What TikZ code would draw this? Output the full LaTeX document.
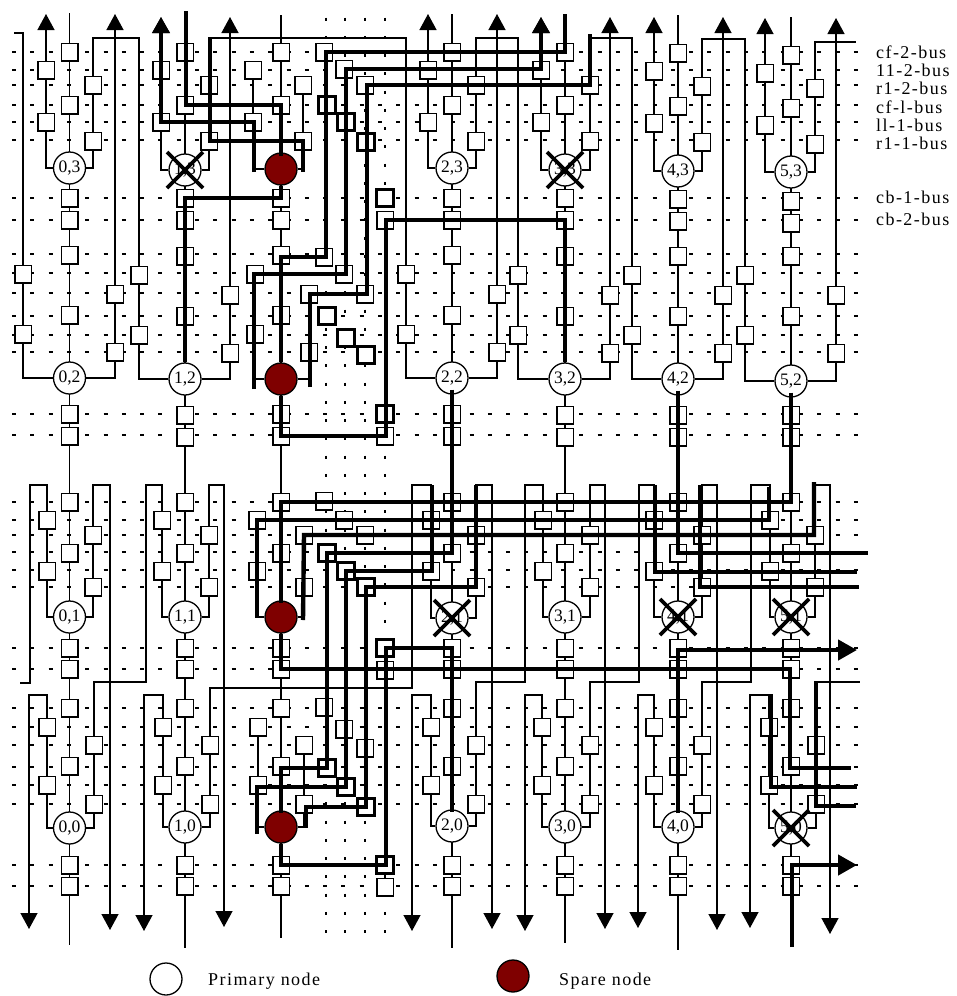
\documentclass[tikz,border=0pt]{standalone}
\usepackage{fontspec}
\setmainfont{Liberation Serif}
\newfontfamily\lblfont[LetterSpace=8]{Liberation Serif}
\usetikzlibrary{arrows.meta,backgrounds}
\definecolor{sparered}{HTML}{7F0000}
\tikzset{
  sw/.style={draw,fill=white,rectangle,minimum width=16.5pt,minimum height=17.5pt,inner sep=0pt,line width=1.5pt},
  swthick/.style={sw,line width=2.8pt},
  pe/.style={draw,fill=white,circle,minimum size=32pt,inner sep=0pt,line width=1.3pt,font=\fontsize{17.5}{18}\selectfont},
  sparepe/.style={pe,fill=sparered},
  wire/.style={line width=1.3pt},
  wirearrow/.style={wire,-{Triangle[width=17pt,length=16pt]}},
  bus/.style={line width=4.4pt,line join=miter},
  busup/.style={bus,-{Triangle[width=17pt,length=16pt]}},
  busarrow/.style={bus,-{Triangle[width=20pt,length=19pt]}},
  busdash/.style={line width=1.1pt,dash pattern=on 4pt off 14.3pt},
  busdots/.style={line width=1.5pt,dash pattern=on 3pt off 15.25pt},
  xm/.style={line width=3.8pt},
  lbl/.style={anchor=west,inner sep=0pt,font=\lblfont\fontsize{18}{18}\selectfont},
}
\newcommand{\setrow}[9]{\def\ya{#1}\def\yb{#2}\def\yc{#3}\def\yd{#4}\def\ye{#5}\def\yf{#6}\def\yg{#7}\def\yh{#8}\def\yi{#9}}
% name, label, cx, xL, xR, box dy, circle dy, style
\newcommand{\pecell}[8]{%
  \node[sw] (#1-cf2) at (#3,{\ya+#6}) {};
  \node[sw] (#1-ll2) at (#4,{\yb+#6}) {};
  \node[sw] (#1-rl2) at (#5,{\yc+#6}) {};
  \node[sw] (#1-cf1) at (#3,{\yd+#6}) {};
  \node[sw] (#1-ll1) at (#4,{\ye+#6}) {};
  \node[sw] (#1-rl1) at (#5,{\yf+#6}) {};
  \node[sw] (#1-cb1) at (#3,{\yh+#6}) {};
  \node[sw] (#1-cb2) at (#3,{\yi+#6}) {};
  \node[#8] (#1) at (#3,{\yg+#7}) {#2};
}
\newcommand{\extras}[9]{% row prefix, then the eight y positions of the bus-crossing switches
  \node[sw] (#1-cf2) at (324,#2) {};
  \node[sw] (#1-ll2) at (344,#3) {};
  \node[sw] (#1-rl2) at (365,#4) {};
  \node[swthick] (#1-cf1) at (327,#5) {};
  \node[swthick] (#1-ll1) at (346,#6) {};
  \node[swthick] (#1-rl1) at (366,#7) {};
  \node[swthick] (#1-cb1) at (385,#8) {};
  \node[sw] (#1-cb2) at (385,#9) {};
}
\newcommand{\outwire}[4]{\coordinate (tip#1) at (#3,#4); \draw[wirearrow] (#1.#2) -| (tip#1);}
\newcommand{\topwrap}[5]{\coordinate (wa) at (#3,#4); \coordinate (wb) at (#5,#4); \draw[wire] (#1.east) -| (wa) -- (wb) |- (#2.west);}
\newcommand{\upover}[6]{\coordinate (wa) at (#3,#4); \coordinate (wb) at (#5,#6); \draw[wirearrow] (#1.#2) -| (wa) -| (wb);}
\newcommand{\sidewrap}[7]{\coordinate (wa) at (#2,#3); \coordinate (wb) at (#4,#5); \coordinate (wc) at (#6,#5); \draw[wire] (#1.west) -| (wa) -| (wb) -- (wc) |- (#7.east);}
\newcommand{\failed}[1]{%
  \draw[xm] ([shift={(-18,-18)}]#1.center) -- ([shift={(18,18)}]#1.center);
  \draw[xm] ([shift={(18,-18)}]#1.center) -- ([shift={(-18,18)}]#1.center);
}
\newcommand{\freept}[3]{\coordinate (#1) at (#2,#3);}
\begin{document}
\begin{tikzpicture}[x=1pt,y=-1pt]
\useasboundingbox (0,0) rectangle (956,996);
% ---- row 3
\setrow{52}{70}{85}{105}{122}{141}{168}{198}{220}
\pecell{n03}{0,3}{69.5}{46}{93}{0}{0}{pe}
\pecell{n13}{1,3}{185}{161}{209}{0}{2}{pe}
\pecell{ns3}{}{281}{253}{303}{0}{1}{sparepe}
\pecell{n23}{2,3}{452}{428}{476}{0}{0}{pe}
\pecell{n33}{3,3}{565}{541}{590}{0}{2}{pe}
\pecell{n43}{4,3}{678}{654}{702}{1}{3}{pe}
\pecell{n53}{5,3}{791}{765}{815}{3}{4}{pe}
\extras{x3}{52}{69}{85}{105}{122}{142}{198}{220}
% ---- row 2
\setrow{255}{274}{294}{315}{334}{352}{379}{414}{436}
\pecell{n02}{0,2}{69.5}{23}{115}{0}{-1}{pe}
\pecell{n12}{1,2}{185}{139}{230}{1}{0}{pe}
\pecell{ns2}{}{281}{255}{309}{0}{0}{sparepe}
\pecell{n22}{2,2}{452}{406}{497}{0}{-1}{pe}
\pecell{n32}{3,2}{565}{518}{610}{1}{0}{pe}
\pecell{n42}{4,2}{678}{632}{723}{1}{0}{pe}
\pecell{n52}{5,2}{791}{745}{836}{1}{2}{pe}
\extras{x2}{257}{274}{294}{316}{338}{355}{414}{436}
% ---- row 1
\setrow{502}{520}{535}{553}{571}{587}{617}{648}{669}
\pecell{n01}{0,1}{69.5}{47}{93}{0}{0}{pe}
\pecell{n11}{1,1}{185}{162}{209}{0}{0}{pe}
\pecell{ns1}{}{281}{257}{304}{0}{0}{sparepe}
\pecell{n21}{2,1}{452}{431}{476}{0}{1}{pe}
\pecell{n31}{3,1}{565}{543}{590}{0}{0}{pe}
\pecell{n41}{4,1}{678}{654}{702}{0}{0}{pe}
\pecell{n51}{5,1}{791}{770}{815}{0}{0}{pe}
\extras{x1}{501}{520}{535}{553}{571}{587}{648}{670}
% ---- row 0
\setrow{708}{727}{745}{766}{785}{804}{827}{865}{886}
\pecell{n00}{0,0}{69.5}{47}{94}{0}{1}{pe}
\pecell{n10}{1,0}{185}{163}{210}{0}{0}{pe}
\pecell{ns0}{}{281}{258}{304}{0}{0}{sparepe}
\pecell{n20}{2,0}{452}{431}{476}{0}{-1}{pe}
\pecell{n30}{3,0}{565}{542}{590}{0}{0}{pe}
\pecell{n40}{4,0}{678}{654}{702}{0}{0}{pe}
\pecell{n50}{5,0}{791}{769}{816}{0}{1}{pe}
\extras{x0}{707}{729}{748}{768}{787}{807}{865}{887}

\begin{pgfonlayer}{background}
\foreach \yy in {52,70,85,105,122,140,198,220,254,273,293,316,335,352,414,435,502,520,535,552,570,587,648,669,708,727,745,767,785,804,865,886}
  \draw[busdash] (12,\yy) -- (860,\yy);
\foreach \xx in {326,345,365,385}
  \draw[busdots] (\xx,17.5) -- (\xx,933);
% centre columns
\foreach \nm/\xx/\ta/\tb in {c0/69.5/13/945,c1/185/12/948,cs/281/15/938,c2/452/14/948,c3/565/14/943,c4/678/15/950,c5/791/17/945}{
  \coordinate (\nm t) at (\xx,\ta);
  \coordinate (\nm b) at (\xx,\tb);
  \draw[wire] (\nm t) -- (\nm b);
}
% spare-column stubs
\foreach \r in {3,2,1,0}{
  \draw[wire] (ns\r.west) -| (ns\r-ll2.center);
  \draw[wire] (ns\r.east) -| (ns\r-rl2.center);
}
% row 3 lefts and row 2 rights go out through the top
\outwire{n03}{west}{46}{14}
\outwire{n13}{west}{161}{17}
\outwire{n23}{west}{428}{14}
\outwire{n33}{west}{541}{17}
\outwire{n43}{west}{654}{17}
\outwire{n53}{west}{765}{18}
\outwire{n02}{east}{115}{14}
\outwire{n12}{east}{230}{17}
\outwire{n22}{east}{497}{14}
\outwire{n32}{east}{610}{17}
\outwire{n42}{east}{723}{17}
\outwire{n52}{east}{836}{18}
% row 3 rights wrap to row 2 lefts
\topwrap{n03}{n12}{93}{38}{139}
\topwrap{n13}{n22}{209}{38}{406}
\topwrap{n23}{n32}{476}{38}{518}
\topwrap{n33}{n42}{590}{38}{632}
\topwrap{n43}{n52}{702}{39}{745}
\coordinate (e53a) at (815,42); \coordinate (e53b) at (856,42);
\draw[wire] (n53.east) -| (e53a) -- (e53b);
\coordinate (e02a) at (23,33); \coordinate (e02b) at (14,33);
\draw[wire] (n02.west) -| (e02a) -- (e02b);
% row 1 rights and row 0 lefts go out through the bottom
\upover{n01}{east}{93}{485}{110}{930}
\upover{n11}{east}{209}{485}{224}{927}
\upover{n21}{east}{476}{485}{492}{929}
\upover{n31}{east}{590}{485}{605}{929}
\upover{n41}{east}{702}{485}{717}{930}
\upover{n51}{east}{815}{485}{830}{934}
\upover{n00}{west}{47}{695}{29}{929}
\upover{n10}{west}{163}{695}{144}{931}
\upover{n20}{west}{431}{695}{412}{931}
\upover{n30}{west}{542}{695}{525}{931}
\upover{n40}{west}{654}{695}{638}{928}
\upover{n50}{west}{769}{695}{750}{928}
% row 1 lefts wrap from row 0 rights
\sidewrap{n11}{162}{485}{146}{682}{94}{n00}
\sidewrap{n21}{431}{485}{412}{688}{210}{n10}
\sidewrap{n31}{543}{485}{525}{682}{476}{n20}
\sidewrap{n41}{654}{485}{639}{682}{590}{n30}
\sidewrap{n51}{770}{485}{751}{682}{702}{n40}
\coordinate (e01a) at (47,485); \coordinate (e01b) at (30,683); \coordinate (e01c) at (20,683);
\draw[wire] (n01.west) -| (e01a) -| (e01b) -- (e01c);
\coordinate (e50a) at (816,682); \coordinate (e50b) at (860,682);
\draw[wire] (n50.east) -| (e50a) -- (e50b);
\end{pgfonlayer}

% ---- thick reconfigured routes, upper half
\draw[bus] (ns2.north) |- ([xshift=2pt]x2-cf2.center) -- ([xshift=2pt]x3-cf2.center) -| (c3t);
\freept{r2a}{254}{389}
\draw[busup] (r2a) |- ([xshift=2pt]x2-ll2.center) -- ([xshift=2pt]x3-ll2.center) -| (tipn33);
\freept{r3a}{310}{387}\freept{r3b}{590}{34}
\draw[bus] (r3a) |- ([xshift=2pt]x2-rl2.center) -- ([xshift=2pt]x3-rl2.center) -| (r3b);
\freept{r4a}{186}{11}\freept{r4b}{254}{172}\freept{r4c}{303}{172}\freept{r4d}{210}{38}
\draw[bus] (r4a) |- (ns3-cf1.center) -- ([yshift=-4pt]ns3.north);
\draw[busup] (r4b) |- (n13-ll1.center) -| (tipn13);
\draw[bus] (r4d) |- (ns3-rl1.center) -- (r4c);
\draw[bus] (ns3.south) -- (ns3-cb1.center) -- (n13-cb1.center) -- (n12.north);
\draw[bus] (ns2.south) |- ([xshift=1pt]x2-cb2.center) -- ([xshift=1pt]x3-cb2.center) -| (n32.north);
% ---- thick routes, lower half
\freept{e1}{868}{553}
\freept{t21}{432}{485}\freept{t21r}{476}{485}\freept{t41}{655}{485}\freept{t41r}{700}{485}
\freept{t51}{769}{487}\freept{t51r}{814}{482}
\draw[bus] ([yshift=5pt]n22.south) |- (x1-cf1.center) -- (x0-cf1.center) -| ([yshift=-3pt]ns0.north);
\draw[bus] ([yshift=5pt]n42.south) |- (e1);
\draw[bus] ([yshift=5pt]n52.south) |- (ns1-cf2.center) -- ([yshift=-3pt]ns1.north);
\freept{b1}{257}{618}\freept{b2}{303}{620}\freept{b3}{257}{834}\freept{b4}{306}{828}
\draw[bus] (t51) |- (ns1-ll2.center) -- (b1);
\draw[bus] (t51r) |- (ns1-rl2.center) -- (b2);
\draw[bus] (t21) |- (x1-ll1.center) -- (x0-ll1.center) -| (b3);
\draw[bus] (t21r) |- (x1-rl1.center) -- (x0-rl1.center) -| (b4);
\freept{e2}{857}{572}\freept{e3}{859}{587}
\draw[bus] (t41) |- (e2);
\draw[bus] (t41r) |- (e3);
\draw[bus] (ns0.south) |- ([xshift=1pt]x0-cb1.center) -- ([xshift=1pt]x1-cb1.center) -| ([yshift=-3pt]n20.north);
\freept{e4}{851}{768}\freept{e5}{857}{650}\freept{e6}{792}{947}\freept{e7}{857}{865}
\freept{t50}{771}{694}\freept{e8}{857}{787}\freept{t50r}{816}{681}\freept{e9}{856}{806}
\draw[bus] (ns1.south) |- ([xshift=-1pt]n51-cb2.center) |- (e4);
\draw[bus] (t50) |- (e8);
\draw[bus] (t50r) |- (e9);
\draw[busarrow] ([yshift=-3pt]n40.north) |- (e5);
\draw[busarrow] (e6) |- (e7);
% ---- failed nodes
\failed{n13}\failed{n33}\failed{n21}\failed{n41}\failed{n51}\failed{n50}
% ---- bus labels
\node[lbl] (lab1) at (876,52) {cf-2-bus};
\node[lbl] (lab2) at (876,70) {11-2-bus};
\node[lbl] (lab3) at (876,88) {r1-2-bus};
\node[lbl] (lab4) at (876,107) {cf-l-bus};
\node[lbl] (lab5) at (876,125) {ll-1-bus};
\node[lbl] (lab6) at (876,143) {r1-1-bus};
\node[lbl] (lab7) at (876,197) {cb-1-bus};
\node[lbl] (lab8) at (876,219) {cb-2-bus};
% ---- legend
\node[pe] (legp) at (166,979) {};
\node[lbl] (legpt) at (208,981) {Primary node};
\node[sparepe] (legs) at (513,976) {};
\node[lbl] (legst) at (559,981) {Spare node};
\end{tikzpicture}
\end{document}
